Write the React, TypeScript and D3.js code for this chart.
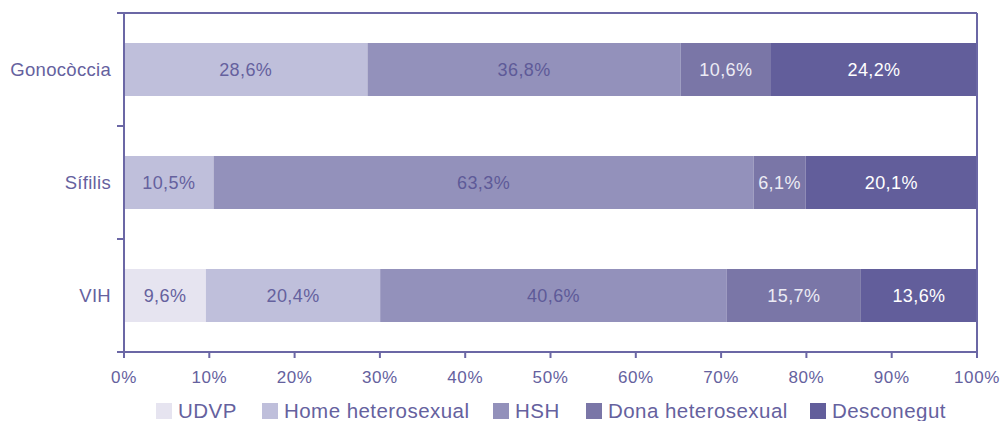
import React from "react";
import * as d3 from "d3";

const categories = ["Gonocòccia", "Sífilis", "VIH"];
const seriesNames = ["UDVP", "Home heterosexual", "HSH", "Dona heterosexual", "Desconegut"];
const udvp = [0, 0, 9.6];
const homeHetero = [28.6, 10.5, 20.4];
const hsh = [36.8, 63.3, 40.6];
const donaHetero = [10.6, 6.1, 15.7];
const desconegut = [24.2, 20.1, 13.6];
const xTicks = [0, 10, 20, 30, 40, 50, 60, 70, 80, 90, 100];

const colors = ["#e6e4f0", "#bfbfdb", "#9391bb", "#7a76a7", "#625e9b"];
const labelColors = ["#65619e", "#65619e", "#5e5a98", "#ecebf4", "#ffffff"];
const textColor = "#65619e";
const axisColor = "#6b67a5";
const legendX = [156, 262, 493, 586, 810];

export default function App() {
  const W = 1003, H = 421;
  const left = 124, right = 977, top = 13, bottom = 352;
  const x = d3.scaleLinear().domain([0, 100]).range([left, right]);
  const y = d3.scaleBand<string>().domain(categories).range([top, bottom]).paddingInner(0.531).paddingOuter(0.2655);
  const series = [udvp, homeHetero, hsh, donaHetero, desconegut];
  const font = "'Liberation Sans', Arial, Helvetica, sans-serif";

  const rows = categories.map((c, i) => {
    const vals = series.map((s) => s[i]);
    const total = d3.sum(vals);
    let acc = 0;
    return vals.map((v, k) => {
      const x0 = (acc / total) * 100;
      acc += v;
      const x1 = (acc / total) * 100;
      return { c, v, k, x0, x1 };
    });
  });

  const fmt = (v: number) => v.toFixed(1).replace(".", ",") + "%";

  return (
    <svg width={W} height={H} style={{ position: "absolute", left: 0, top: 0 }} fontFamily={font}>
      {rows.map((segs, i) =>
        segs.filter((s) => s.v > 0).map((s) => (
          <g key={`${i}-${s.k}`}>
            <rect x={x(s.x0)} y={y(s.c)} width={x(s.x1) - x(s.x0)} height={y.bandwidth()} fill={colors[s.k]} />
            <text x={(x(s.x0) + x(s.x1)) / 2} y={(y(s.c) as number) + y.bandwidth() / 2} dy="0.36em"
              textAnchor="middle" fontSize={18} letterSpacing={0.4} fill={labelColors[s.k]}>{fmt(s.v)}</text>
          </g>
        ))
      )}
      {/* frame */}
      <line x1={left - 7} x2={right} y1={top} y2={top} stroke={axisColor} strokeWidth={2} />
      <line x1={right} x2={right} y1={top} y2={bottom} stroke={axisColor} strokeWidth={2} />
      <line x1={left} x2={left} y1={top} y2={bottom + 6} stroke={axisColor} strokeWidth={2} />
      <line x1={left - 7} x2={right} y1={bottom} y2={bottom} stroke={axisColor} strokeWidth={2} />
      {d3.range(categories.length + 1).map((i) => {
        const yy = top + (i * (bottom - top)) / categories.length;
        return <line key={i} x1={left - 7} x2={left} y1={yy} y2={yy} stroke={axisColor} strokeWidth={2} />;
      })}
      {categories.map((c) => (
        <text key={c} x={111} y={(y(c) as number) + y.bandwidth() / 2} dy="0.36em" textAnchor="end" fontSize={18.5} letterSpacing={0.3} fill={textColor}>{c}</text>
      ))}
      {xTicks.map((t) => (
        <g key={t}>
          <line x1={x(t)} x2={x(t)} y1={bottom} y2={bottom + 6} stroke={axisColor} strokeWidth={2} />
          <text x={x(t)} y={383} textAnchor="middle" fontSize={17} letterSpacing={0.6} fill={textColor}>{t}%</text>
        </g>
      ))}
      {seriesNames.map((n, k) => (
        <g key={n}>
          <rect x={legendX[k]} y={403} width={16} height={16} fill={colors[k]} />
          <text x={legendX[k] + 22} y={418} fontSize={20.5} letterSpacing={0.45} fill={textColor}>{n}</text>
        </g>
      ))}
    </svg>
  );
}
